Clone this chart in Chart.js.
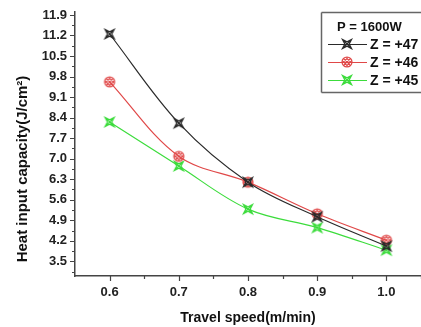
<!DOCTYPE html>
<html>
<head>
<meta charset="utf-8">
<script src="https://cdn.jsdelivr.net/npm/chart.js@4.4.1/dist/chart.umd.min.js"></script>
<style>
  html, body { margin:0; padding:0; background:#fff; overflow:hidden; }
  #wrap { width:421px; height:327px; }
</style>
</head>
<body>
<div id="wrap"><canvas id="c"></canvas></div>
<script>
// data
const speeds = [0.6, 0.7, 0.8, 0.9, 1.0];
const z47 = [11.25, 8.21, 6.2, 5.02, 4.02];
const z46 = [9.62, 7.08, 6.2, 5.12, 4.22];
const z45 = [8.25, 6.75, 5.28, 4.65, 3.88];
const seriesLabels = ['Z = +47', 'Z = +46', 'Z = +45'];
const legendTitle = 'P = 1600W';
const xTicks = [0.6, 0.7, 0.8, 0.9, 1.0];
const yTicks = [3.5, 4.2, 4.9, 5.6, 6.3, 7.0, 7.7, 8.4, 9.1, 9.8, 10.5, 11.2, 11.9];

const FONT = '"Liberation Sans", Arial, sans-serif';
const colors = ['#2a2a2a', '#e04848', '#3cdc3c'];

// marker images (Origin-like symbols)
function makeMarker(color, kind) {
  const s = 16, c = document.createElement('canvas');
  c.width = s; c.height = s;
  const g = c.getContext('2d');
  g.translate(8, 8);
  g.strokeStyle = color;
  g.lineWidth = 1.2;
  if (kind === 'circle') {
    g.beginPath();
    g.arc(0, 0, 5, 0, Math.PI * 2);
    g.stroke();
    g.save();
    g.clip();
    g.beginPath();
    [-3.5, 0, 3.5].forEach(o => {
      g.moveTo(-7 + o, -7); g.lineTo(7 + o, 7);
      g.moveTo(7 + o, -7); g.lineTo(-7 + o, 7);
    });
    g.stroke();
    g.restore();
  } else {
    const R = 6.5, r = 2.2;
    g.beginPath();
    for (let k = 0; k < 4; k++) {
      const a = Math.PI / 4 + k * Math.PI / 2;
      const b = a + Math.PI / 4;
      g.lineTo(R * Math.cos(a), R * Math.sin(a));
      g.lineTo(r * Math.cos(b), r * Math.sin(b));
    }
    g.closePath();
    g.moveTo(-R * 0.7, -R * 0.7); g.lineTo(R * 0.7, R * 0.7);
    g.moveTo(R * 0.7, -R * 0.7); g.lineTo(-R * 0.7, R * 0.7);
    g.stroke();
  }
  return c;
}
const markers = [
  makeMarker(colors[0], 'star'),
  makeMarker(colors[1], 'circle'),
  makeMarker(colors[2], 'star')
];

function pts(vals) { return speeds.map((x, i) => ({ x: x, y: vals[i] })); }

const tickPlugin = {
  id: 'ticksAndLegend',
  afterDraw(chart) {
    const ctx = chart.ctx;
    const xs = chart.scales.x, ys = chart.scales.y;
    const area = chart.chartArea;
    const W = chart.width;
    ctx.save();
    ctx.strokeStyle = '#444';
    ctx.lineWidth = 1.2;
    ctx.beginPath();
    // x ticks
    xTicks.forEach(v => {
      const px = Math.round(xs.getPixelForValue(v)) + 0.5;
      ctx.moveTo(px, area.bottom); ctx.lineTo(px, area.bottom + 5);
      const pm = Math.round(xs.getPixelForValue(v + 0.05)) + 0.5;
      ctx.moveTo(pm, area.bottom); ctx.lineTo(pm, area.bottom + 3);
    });
    // y ticks
    yTicks.forEach(v => {
      const py = Math.round(ys.getPixelForValue(v)) + 0.5;
      ctx.moveTo(area.left, py); ctx.lineTo(area.left - 5, py);
      const pm = Math.round(ys.getPixelForValue(v - 0.35)) + 0.5;
      ctx.moveTo(area.left, pm); ctx.lineTo(area.left - 3, pm);
    });
    ctx.stroke();

    // y title
    ctx.fillStyle = '#111';
    ctx.font = 'bold 15px ' + FONT;
    ctx.textAlign = 'center';
    ctx.textBaseline = 'middle';
    ctx.translate(23, 169);
    ctx.rotate(-Math.PI / 2);
    ctx.fillText('Heat input capacity(J/cm²)', 0, 0);
    ctx.restore();

    // legend (box runs off the right edge)
    ctx.save();
    ctx.fillStyle = '#fff';
    ctx.fillRect(321, 12, W - 321, 80);
    ctx.strokeStyle = '#666';
    ctx.lineWidth = 1.5;
    ctx.beginPath();
    ctx.moveTo(321.5, 12.5); ctx.lineTo(W, 12.5);
    ctx.moveTo(321.5, 12.5); ctx.lineTo(321.5, 92.5);
    ctx.moveTo(321.5, 92.5); ctx.lineTo(W, 92.5);
    ctx.stroke();
    ctx.fillStyle = '#111';
    ctx.font = 'bold 13px ' + FONT;
    ctx.textBaseline = 'middle';
    ctx.textAlign = 'left';
    ctx.fillText(legendTitle, 337, 27);
    chart.data.datasets.forEach((ds, i) => {
      const y = 44 + i * 18;
      ctx.strokeStyle = ds.borderColor;
      ctx.lineWidth = 1.2;
      ctx.beginPath();
      ctx.moveTo(328, y + 0.5); ctx.lineTo(367, y + 0.5);
      ctx.stroke();
      ctx.drawImage(markers[i], 347 - 8, y - 8);
      ctx.fillStyle = '#111';
      ctx.font = 'bold 14px ' + FONT;
      ctx.fillText(ds.label, 370, y + 1);
    });
    ctx.restore();
  }
};

new Chart(document.getElementById('c'), {
  type: 'line',
  data: {
    datasets: [z47, z46, z45].map((vals, i) => ({
      label: seriesLabels[i],
      data: pts(vals),
      borderColor: colors[i],
      backgroundColor: colors[i],
      borderWidth: 1.2,
      tension: 0.35,
      pointStyle: markers[i],
      pointRadius: 8
    }))
  },
  options: {
    responsive: true,
    maintainAspectRatio: false,
    animation: false,
    layout: { autoPadding: false, padding: { top: 12, right: 0, left: 0, bottom: 0 } },
    plugins: { legend: { display: false }, tooltip: { enabled: false } },
    scales: {
      x: {
        type: 'linear',
        min: 0.55, max: 1.05,
        afterBuildTicks: s => { s.ticks = xTicks.map(v => ({ value: v })); },
        afterFit: s => { s.height = 51; s.paddingLeft = 0; s.paddingRight = 0; },
        grid: { display: false, drawTicks: false },
        border: { display: true, color: '#444', width: 1.5 },
        ticks: {
          padding: 9,
          color: '#222',
          font: { family: FONT, size: 13, weight: 'bold' },
          maxRotation: 0,
          callback: v => Number(v).toFixed(1)
        },
        title: {
          display: true,
          text: 'Travel speed(m/min)',
          color: '#111',
          font: { family: FONT, size: 14, weight: 'bold' },
          padding: { top: 0, bottom: 0 }
        }
      },
      y: {
        min: 3.0, max: 12.0,
        afterBuildTicks: s => { s.ticks = yTicks.map(v => ({ value: v })); },
        afterFit: s => { s.width = 75; s.paddingTop = 0; s.paddingBottom = 0; },
        grid: { display: false, drawTicks: false },
        border: { display: true, color: '#444', width: 1.5 },
        ticks: {
          padding: 8,
          color: '#222',
          font: { family: FONT, size: 13, weight: 'bold' },
          callback: v => Number(v).toFixed(1)
        }
      }
    }
  },
  plugins: [tickPlugin]
});
</script>
</body>
</html>
